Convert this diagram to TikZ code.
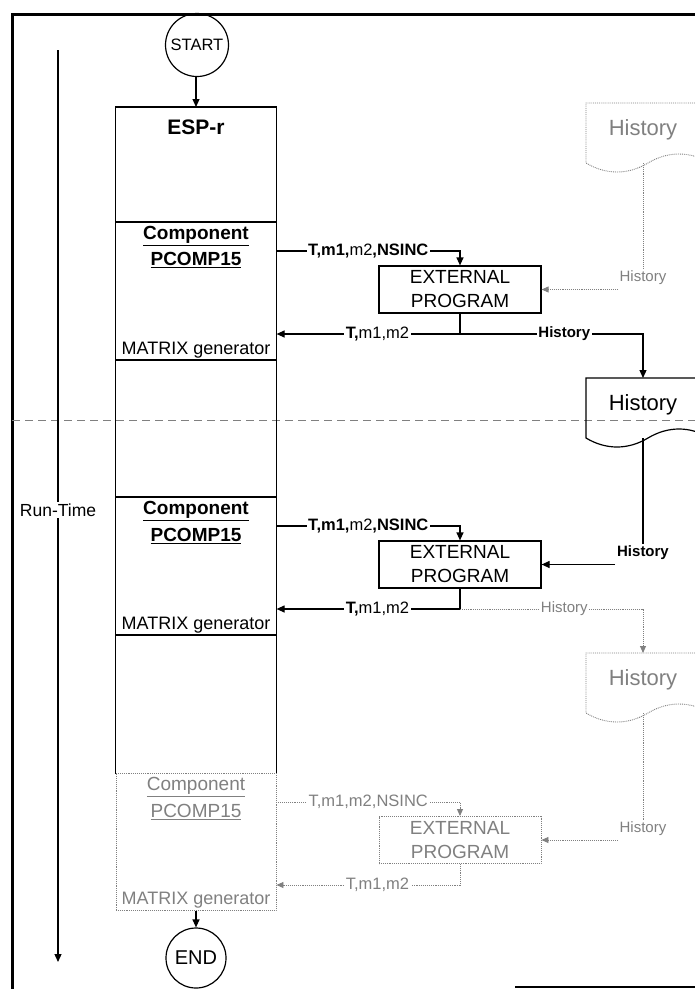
\documentclass[tikz,border=0pt]{standalone}
\usepackage{fontspec}
\setmainfont{Liberation Sans}
\usetikzlibrary{arrows.meta,calc}
\definecolor{faded}{gray}{0.5}
\begin{document}
\begin{tikzpicture}[x=1pt,y=-1pt, line width=1.2pt,
  tip/.style={-{Triangle[length=8pt,width=7pt]}},
  ftip/.style={-{Triangle[length=7pt,width=6pt,fill=faded]}},
  faint/.style={draw=faded, densely dotted, line width=0.9pt},
  lab/.style={fill=white, inner sep=1.5pt, font=\fontsize{16.5}{19}\selectfont},
  slab/.style={fill=white, inner sep=1.5pt, font=\fontsize{15}{18}\selectfont},
  blab/.style={fill=white, inner sep=1.5pt, font=\bfseries\fontsize{15}{18}\selectfont},
  doctext/.style={font=\fontsize{22}{26}\selectfont},
  extbox/.style={draw, minimum width=162pt, minimum height=47pt, align=center, inner sep=0pt, font=\fontsize{19}{24}\selectfont},
  comp/.style={font=\bfseries\fontsize{19}{23}\selectfont},
  mtx/.style={font=\fontsize{18}{21}\selectfont},
  term/.style={circle, draw, minimum size=63pt, inner sep=0pt},
]
\useasboundingbox (0,0) rectangle (695,989);
\clip (0,0) rectangle (695,989);

% frame
\draw[line width=3pt] (12,995) -- (12,14) -- (700,14);
\draw[line width=2.5pt] (515,987) -- (700,987);

% time separator
\draw[faded, dash pattern=on 8pt off 5pt, line width=0.8pt] (12,420) -- (695,420);

% run-time axis
\node[font=\fontsize{17.5}{20}\selectfont, inner sep=1pt, fill=white] (rt) at (58,510) {Run-Time};
\coordinate (rtop) at (58,50);
\coordinate (rbot) at (58,962);
\draw (rtop) -- (rt.north);
\draw[tip] (rt.south) -- (rbot);

% main column
\node[term, font=\fontsize{16.5}{19}\selectfont] (start) at (197,45) {START};
\node[minimum width=160pt, minimum height=666pt, anchor=north, inner sep=0pt] (esp) at (196,107) {};
\draw (esp.south west) -- (esp.north west) -- (esp.north east) -- (esp.south east);
\node[font=\bfseries\fontsize{21}{25}\selectfont] (espr) at (196,127) {ESP-r};
\draw (116,222) -- (276,222);
\draw (116,360) -- (276,360);
\draw (116,497) -- (276,497);
\draw (116,635) -- (276,635);
\node[faint, minimum width=160pt, minimum height=137pt, anchor=north, inner sep=0pt] (c3box) at (196,773) {};
\draw[tip] (start.south -| esp.north) -- (esp.north);
\node[term, minimum size=60pt, font=\fontsize{20}{24}\selectfont] (end) at (196,958) {END};
\draw[tip] (c3box.south) -- (end);

% component texts
\node[comp] (c1a) at (196,236) {\underline{Component}};
\node[comp] (c1b) at (196,260) {\underline{PCOMP15}};
\node[mtx] (m1) at (196,350) {MATRIX generator};
\node[comp] (c2a) at (196,511) {\underline{Component}};
\node[comp] (c2b) at (196,536) {\underline{PCOMP15}};
\node[mtx] (m2) at (196,625) {MATRIX generator};
\node[comp, font=\fontsize{19}{23}\selectfont, text=faded] (c3a) at (196,787) {\underline{Component}};
\node[comp, font=\fontsize{19}{23}\selectfont, text=faded] (c3b) at (196,812) {\underline{PCOMP15}};
\node[mtx, text=faded] (m3) at (196,900) {MATRIX generator};

% history documents
\draw[faint] (710,103) -- (586,103) -- (586,163) .. controls (606,175) and (628,175) .. (648,163) .. controls (668,151) and (690,151) .. (710,163);
\node[doctext, text=faded] (doc1) at (643,130) {History};
\coordinate (doc1b) at (643,163);
\draw (710,378) -- (586,378) -- (586,438) .. controls (606,450) and (628,450) .. (648,438) .. controls (668,426) and (690,426) .. (710,438);
\node[doctext] (doc2) at (643,405) {History};
\coordinate (doc2t) at (643,378);
\coordinate (doc2b) at (643,438);
\draw[faint] (710,653) -- (586,653) -- (586,713) .. controls (606,725) and (628,725) .. (648,713) .. controls (668,701) and (690,701) .. (710,713);
\node[doctext, text=faded] (doc3) at (643,680) {History};
\coordinate (doc3t) at (643,653);
\coordinate (doc3b) at (643,713);

% external programs
\node[extbox] (ext1) at (460,289.5) {EXTERNAL\\PROGRAM};
\node[extbox] (ext2) at (460,564.5) {EXTERNAL\\PROGRAM};
\node[extbox, faint, text=faded] (ext3) at (460,840) {EXTERNAL\\PROGRAM};

% row 1
\coordinate (n1) at (460,251);
\draw[tip] (esp.east |- n1) -- node[lab]{\textbf{T,m1,}m2\textbf{,NSINC}} (n1) -- (ext1.north);
\coordinate (r1) at (460,334);
\coordinate (h1) at (643,334);
\draw[tip] (ext1.south) -- (r1) -- node[lab, pos=0.45]{\textbf{T,}m1,m2} (esp.east |- r1);
\draw[tip] (r1) -- node[blab, pos=0.57]{History} (h1) -- (doc2t);
\node[slab, text=faded] (hl1) at (643,278) {History};
\draw[faint] (doc1b) -- (hl1);
\draw[faint, ftip] (hl1.west |- ext1.east) -- (ext1.east);

% row 2
\coordinate (n2) at (460,526);
\draw[tip] (esp.east |- n2) -- node[lab]{\textbf{T,m1,}m2\textbf{,NSINC}} (n2) -- (ext2.north);
\coordinate (r2) at (460,609);
\coordinate (h2) at (643,609);
\draw[tip] (ext2.south) -- (r2) -- node[lab, pos=0.45]{\textbf{T,}m1,m2} (esp.east |- r2);
\draw[faint, ftip] (r2) -- node[slab, text=faded, pos=0.57]{History} (h2) -- (doc3t);
\node[blab] (hl2) at (643,553) {History};
\draw (doc2b) -- (hl2);
\draw[tip] (hl2.west |- ext2.east) -- (ext2.east);

% row 3
\coordinate (n3) at (460,802);
\draw[faint, ftip] (c3box.east |- n3) -- node[lab, text=faded]{T,m1,m2,NSINC} (n3) -- (ext3.north);
\coordinate (r3) at (460,885);
\draw[faint, ftip] (ext3.south) -- (r3) -- node[lab, text=faded, pos=0.45]{T,m1,m2} (c3box.east |- r3);
\node[slab, text=faded] (hl3) at (643,829) {History};
\draw[faint] (doc3b) -- (hl3);
\draw[faint, ftip] (hl3.west |- ext3.east) -- (ext3.east);
\end{tikzpicture}
\end{document}
